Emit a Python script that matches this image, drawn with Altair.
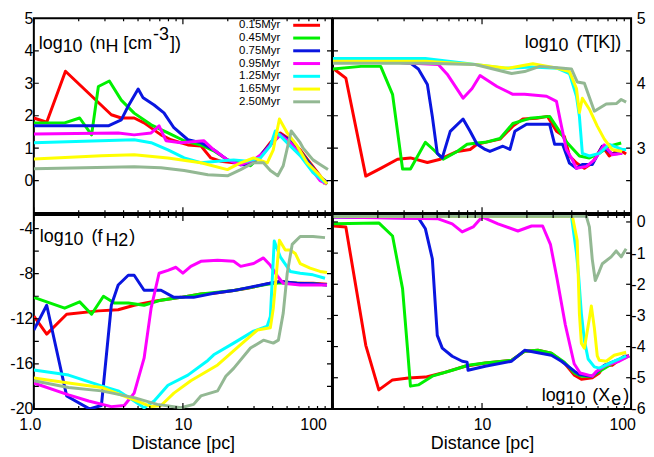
import altair as alt
import pandas as pd

FONT = "Liberation Sans"
SERIES = ["0.15Myr", "0.45Myr", "0.75Myr", "0.95Myr", "1.25Myr", "1.65Myr", "2.50Myr"]
COLORS = ["#ff0000", "#00f000", "#0a16e0", "#ff00ff", "#00ffff", "#ffff00", "#93b893"]

X_MAJOR = [1, 10, 100]
X_MINOR = [2, 3, 4, 5, 6, 7, 8, 9, 20, 30, 40, 50, 60, 70, 80, 90]

# ---------------- log10 nH  (top left) ----------------
nh_015 = [(1.0, 1.93), (1.22, 1.8), (1.63, 3.37), (3.31, 2.03), (3.86, 1.93), (4.71, 1.93), (5.49, 1.78),
          (7.13, 1.41), (8.32, 1.26), (10.8, 1.1), (13.2, 1.07), (15.4, 0.7), (17.9, 0.6), (21.9, 0.55),
          (28.4, 0.52), (33.1, 0.77), (38.6, 1.17), (45.0, 1.47), (52.5, 1.26), (61.2, 0.95), (71.3, 0.55),
          (83.2, 0.15), (89.8, -0.1)]
nh_045 = [(1.0, 1.78), (1.61, 1.78), (2.03, 1.93), (2.44, 1.41), (2.71, 2.9), (3.21, 3.07), (3.86, 2.48),
          (4.71, 2.08), (6.12, 1.72), (7.94, 1.47), (10.2, 1.23), (13.2, 1.1), (16.1, 0.92), (19.9, 0.64),
          (24.4, 0.55), (28.4, 0.46), (33.1, 0.75), (38.6, 1.1), (45.0, 1.41), (52.5, 1.2), (61.2, 0.9),
          (71.3, 0.5), (83.2, 0.1), (92.6, -0.12)]
nh_075 = [(1.0, 1.69), (3.16, 1.69), (3.86, 1.87), (4.30, 2.3), (5.01, 2.82), (5.41, 2.55), (6.41, 2.33),
          (7.46, 2.09), (8.70, 1.63), (10.8, 1.26), (13.2, 1.17), (16.1, 0.95), (19.9, 0.64), (24.4, 0.49),
          (28.4, 0.5), (33.1, 0.78), (38.6, 1.12), (45.0, 1.43), (52.5, 1.22), (61.2, 0.9), (71.3, 0.5),
          (83.2, 0.12), (92.6, -0.05)]
nh_095 = [(1.0, 1.44), (3.68, 1.47), (4.71, 1.41), (6.12, 1.47), (6.92, 1.69), (7.70, 1.23), (9.70, 1.17),
          (13.8, 1.23), (16.1, 0.95), (19.9, 0.64), (24.4, 0.49), (29.8, 0.64), (34.7, 0.85), (38.6, 1.1),
          (45.0, 1.41), (52.5, 1.17), (61.2, 0.8), (71.3, 0.4), (83.2, 0.0), (92.6, -0.1)]
nh_125 = [(1.0, 1.17), (4.71, 1.26), (6.12, 1.17), (7.94, 0.95), (10.2, 0.7), (13.2, 0.55), (17.1, 0.6),
          (21.9, 0.64), (27.1, 0.6), (33.1, 0.7), (38.6, 1.07), (41.7, 1.53), (45.0, 1.38), (52.5, 1.07),
          (61.2, 0.77), (74.6, 0.25), (89.8, -0.06)]
nh_165 = [(1.0, 0.67), (2.84, 0.77), (4.71, 0.8), (7.94, 0.7), (13.2, 0.55), (19.9, 0.34), (24.4, 0.55),
          (29.8, 0.7), (36.8, 0.55), (40.4, 0.95), (44.4, 1.9), (50.1, 1.47), (58.4, 1.07), (68.1, 0.55),
          (83.2, 0.15), (92.6, -0.1)]
nh_250 = [(1.0, 0.37), (4.71, 0.43), (7.13, 0.4), (10.2, 0.31), (14.7, 0.18), (19.9, 0.15), (24.4, 0.34),
          (29.8, 0.55), (34.7, 0.55), (38.6, 0.31), (43.3, 0.15), (47.1, 0.46), (53.3, 1.53), (61.2, 1.17),
          (64.1, 1.0), (74.6, 0.64), (83.2, 0.5), (94.0, 0.34)]

# ---------------- log10 T  (top right) ----------------
t_015 = [(1.015, 4.22), (1.22, 4.08), (1.66, 2.57), (2.09, 2.69), (2.71, 2.83), (3.31, 2.85), (4.30, 2.78),
         (5.25, 2.83), (6.81, 2.95), (8.32, 2.98), (9.26, 3.06), (10.5, 3.09), (13.2, 3.14), (16.1, 3.34),
         (18.8, 3.45), (23.3, 3.46), (27.5, 3.49), (31.6, 3.26), (35.7, 3.18), (38.6, 2.88), (43.0, 2.77),
         (48.6, 2.69), (54.9, 2.77), (64.1, 3.03), (71.3, 2.88), (83.2, 2.98), (92.6, 2.91)]
t_045 = [(1.0, 4.22), (1.54, 4.26), (2.09, 4.26), (2.51, 3.83), (2.93, 2.68), (3.31, 2.68), (4.17, 3.09),
         (4.71, 2.98), (5.49, 2.83), (6.81, 2.95), (7.94, 3.06), (9.26, 3.08), (10.5, 3.09), (13.2, 3.15),
         (16.1, 3.38), (20.9, 3.46), (28.4, 3.49), (33.1, 3.26), (37.4, 3.08), (45.0, 2.88), (52.5, 2.85),
         (61.2, 2.92), (71.3, 3.03), (85.8, 3.08)]
t_075 = [(1.0, 4.37), (3.31, 4.31), (3.74, 4.22), (4.30, 3.98), (4.64, 3.49), (5.01, 2.92), (5.41, 2.85),
         (6.12, 3.26), (7.46, 3.45), (8.32, 3.26), (9.26, 3.06), (10.5, 2.98), (11.3, 2.95), (13.8, 3.03),
         (15.4, 2.98), (16.6, 3.26), (19.9, 3.37), (28.4, 3.37), (30.7, 3.06), (34.7, 3.06), (38.6, 2.77),
         (43.0, 2.69), (47.1, 2.75), (54.9, 2.75), (64.1, 3.03), (74.6, 2.91), (87.1, 2.92)]
t_095 = [(1.0, 4.37), (5.09, 4.29), (5.84, 4.14), (7.46, 3.77), (8.58, 3.92), (9.70, 4.12), (12.6, 3.95),
         (16.1, 3.83), (19.3, 3.83), (27.1, 3.8), (31.6, 3.72), (34.1, 3.34), (36.8, 2.98), (39.8, 2.85),
         (43.0, 2.69), (50.1, 2.72), (56.7, 2.82), (66.1, 3.05), (74.6, 2.9), (87.1, 2.92)]
t_125 = [(1.0, 4.38), (4.17, 4.38), (7.70, 4.31), (14.2, 4.23), (21.5, 4.25), (32.1, 4.23), (38.6, 4.15),
         (43.0, 3.8), (45.0, 3.49), (47.1, 2.92), (52.5, 2.88), (61.2, 2.92), (71.3, 3.06), (87.1, 2.98),
         (92.6, 2.98)]
t_165 = [(1.0, 4.34), (4.17, 4.34), (8.98, 4.29), (14.9, 4.23), (21.9, 4.3), (32.1, 4.23), (38.6, 4.18),
         (43.0, 3.92), (45.0, 3.55), (47.1, 3.77), (52.5, 3.6), (59.3, 3.34), (66.1, 3.14), (74.6, 2.98),
         (87.1, 2.95)]
t_250 = [(1.0, 4.31), (4.17, 4.31), (8.98, 4.29), (15.8, 4.15), (19.3, 4.18), (24.4, 4.26), (32.1, 4.24),
         (39.8, 4.22), (43.5, 4.02), (48.6, 4.0), (56.7, 3.57), (68.1, 3.68), (80.0, 3.69), (85.8, 3.75),
         (92.6, 3.71)]

# ---------------- log10 fH2  (bottom left) ----------------
f_015 = [(1.0, -11.77), (1.22, -13.36), (1.66, -11.6), (2.71, -11.3), (3.68, -11.2), (4.71, -10.8),
         (6.72, -10.4), (9.70, -10.1), (13.2, -9.8), (16.1, -9.73), (21.9, -9.5), (27.1, -9.3),
         (36.8, -8.9), (45.0, -8.7), (58.4, -8.85), (74.6, -8.85), (92.6, -8.94)]
f_045 = [(1.0, -10.1), (1.61, -11.06), (2.03, -10.5), (2.44, -11.6), (2.93, -10.0), (3.47, -10.6),
         (4.30, -10.6), (5.49, -10.8), (7.13, -10.35), (9.70, -10.1), (13.2, -9.8), (21.9, -9.5),
         (36.8, -8.94), (45.0, -8.8), (74.6, -8.9), (92.6, -9.0)]
f_075 = [(1.0, -13.0), (1.22, -10.8), (1.66, -18.85), (2.36, -20.0), (2.84, -19.7), (3.31, -10.8),
         (3.68, -9.0), (4.30, -8.14), (4.71, -8.14), (5.49, -9.47), (7.13, -9.47), (8.70, -10.1),
         (11.8, -10.1), (16.1, -9.73), (21.9, -9.5), (36.8, -8.9), (45.0, -8.7), (58.4, -8.85),
         (74.6, -8.9), (92.6, -9.0)]
f_095 = [(1.0, -17.7), (1.71, -18.76), (2.33, -19.3), (3.31, -19.8), (4.04, -19.7), (4.71, -18.6),
         (5.49, -15.5), (6.12, -11.06), (6.92, -7.96), (7.94, -7.7), (8.98, -7.43), (10.0, -7.96),
         (11.3, -7.35), (13.2, -6.9), (17.1, -6.8), (21.9, -6.9), (24.4, -7.35), (29.8, -7.1),
         (34.7, -6.6), (38.6, -7.26), (43.0, -8.2), (47.1, -8.85), (61.2, -9.0), (92.6, -9.0)]
f_125 = [(1.0, -16.55), (1.71, -17.0), (2.84, -17.96), (3.68, -18.4), (4.71, -19.3), (5.49, -19.9),
         (6.41, -19.3), (7.94, -17.9), (10.8, -17.0), (14.7, -15.7), (16.1, -15.2), (21.9, -14.16),
         (29.8, -13.1), (36.8, -12.65), (38.6, -11.8), (41.0, -5.1), (45.0, -6.5), (52.5, -7.8),
         (61.2, -7.96), (74.6, -8.1), (89.8, -8.4)]
f_165 = [(1.0, -17.26), (1.71, -17.7), (2.84, -18.1), (4.71, -19.2), (6.12, -19.8), (7.13, -19.7),
         (8.70, -18.6), (11.3, -17.5), (17.1, -16.1), (24.4, -14.3), (31.6, -13.0), (38.6, -12.8),
         (40.4, -11.06), (44.4, -5.04), (48.6, -5.9), (52.5, -5.9), (56.7, -6.2), (61.2, -7.1),
         (71.3, -7.5), (83.2, -7.8), (92.6, -7.9)]
f_250 = [(1.0, -17.5), (1.71, -18.1), (2.84, -18.4), (4.71, -19.0), (6.72, -19.6), (9.70, -19.9),
         (11.8, -19.6), (13.2, -18.85), (17.1, -18.4), (19.4, -17.1), (21.9, -16.4), (28.4, -14.6),
         (34.7, -13.9), (40.4, -14.16), (43.7, -13.9), (47.1, -11.5), (50.1, -7.96), (54.1, -5.4),
         (61.2, -4.7), (74.6, -4.7), (89.8, -4.8)]

# ---------------- log10 Xe  (bottom right) ----------------
x_015 = [(1.015, -0.13), (1.22, -0.16), (1.66, -3.96), (2.03, -5.39), (2.51, -5.07), (3.21, -5.01),
         (4.17, -4.98), (5.41, -4.85), (7.70, -4.63), (10.5, -4.53), (15.8, -4.44), (19.3, -4.15),
         (23.7, -4.12), (29.2, -4.21), (35.7, -4.53), (41.7, -4.92), (46.4, -5.05), (54.9, -5.0),
         (61.2, -4.85), (66.1, -4.6), (74.6, -4.6), (89.8, -4.31), (97.0, -4.3)]
x_045 = [(1.015, -0.06), (2.03, -0.03), (2.51, -0.45), (2.93, -2.14), (3.16, -4.05), (3.31, -5.27),
         (3.74, -5.23), (4.64, -4.95), (6.31, -4.76), (8.06, -4.6), (10.5, -4.53), (15.8, -4.44),
         (19.3, -4.15), (23.7, -4.12), (29.2, -4.21), (35.7, -4.5), (41.7, -4.85), (46.4, -4.95),
         (54.9, -4.95), (61.2, -4.8), (74.6, -4.55), (89.8, -4.37), (97.0, -4.3)]
x_075 = [(1.015, 0.16), (3.74, 0.13), (4.17, -0.22), (4.64, -1.18), (5.01, -3.64), (5.41, -4.05),
         (6.31, -4.31), (7.36, -4.47), (7.94, -4.5), (8.06, -4.76), (10.5, -4.63), (15.8, -4.47),
         (19.3, -4.12), (23.7, -4.2), (29.2, -4.28), (34.1, -4.47), (41.7, -4.79), (45.0, -4.9),
         (54.9, -4.95), (66.1, -4.6), (89.8, -4.35), (97.0, -4.3)]
x_095 = [(1.015, 0.16), (5.09, 0.1), (6.31, -0.06), (7.36, -0.32), (8.72, -0.16), (10.0, 0.16),
         (12.8, -0.06), (17.4, -0.29), (21.5, -0.13), (25.5, -0.13), (28.8, -0.73), (31.8, -1.8),
         (36.2, -3.3), (41.5, -4.55), (45.5, -4.85), (54.9, -4.95), (58.4, -4.8), (68.1, -4.6),
         (83.2, -4.47), (97.0, -4.3)]
x_125 = [(1.0, 0.18), (39.8, 0.18), (43.0, -1.0), (44.4, -1.7), (46.4, -2.94), (48.6, -3.8),
         (51.5, -4.4), (56.7, -4.65), (61.2, -4.69), (74.6, -4.5), (92.6, -4.3)]
x_165 = [(1.0, 0.18), (40.4, 0.18), (43.5, -0.6), (45.0, -2.94), (46.4, -3.9), (48.6, -4.05),
         (52.5, -3.1), (54.1, -2.7), (56.7, -3.4), (59.3, -4.3), (61.2, -4.44), (68.1, -4.47),
         (77.0, -4.28), (92.6, -4.18)]
x_250 = [(1.0, 0.18), (50.1, 0.18), (52.5, -0.16), (54.9, -1.2), (57.5, -1.88), (61.0, -1.6),
         (64.1, -1.34), (73.5, -1.12), (79.4, -0.93), (85.8, -1.12), (92.6, -0.86)]

# tick label values
NH_LABELS = [0, 1, 2, 3, 4, 5]
NH_TICKS = [-1, 0, 1, 2, 3, 4, 5]
T_LABELS = [3, 4, 5]
T_TICKS = [2, 2.5, 3, 3.5, 4, 4.5, 5]
F_LABELS = [-20, -16, -12, -8, -4]
F_TICKS = [-20, -18, -16, -14, -12, -10, -8, -6, -4]
X_LABELS = [0, -1, -2, -3, -4, -5, -6]
X_TICKS = [0, -1, -2, -3, -4, -5, -6]

W = 300
ONE = alt.Data(values=[{"a": 1}])
COLOR = alt.Color("series:N", scale=alt.Scale(domain=SERIES, range=COLORS), legend=None)

# Arial / Liberation Sans advance widths (per 1000 em) for label layout
CW = {"l": 222, "o": 556, "g": 556, "1": 556, "0": 556, " ": 278, "(": 333, ")": 333, "n": 556,
      "H": 722, "[": 278, "]": 278, "c": 500, "m": 833, "-": 333, "3": 556, "T": 611, "K": 667,
      "f": 278, "2": 556, "X": 667, "e": 556}


def tw(s, size):
    return sum(CW.get(c, 556) for c in s) * size / 1000.0


def series_df(lists):
    rows = []
    for name, pts in zip(SERIES, lists):
        for d, v in pts:
            rows.append({"d": d, "v": v, "series": name})
    return pd.DataFrame(rows)


def texts(x0, y0, segs, size=18):
    out = []
    x = x0
    for t, gap, dy in segs:
        x += gap
        out.append(alt.Chart(ONE).mark_text(text=t, align="left", baseline="alphabetic", font=FONT,
                                            fontSize=size, color="black")
                   .encode(x=alt.value(x), y=alt.value(y0 + dy)))
        x += tw(t, size)
    return out


def panel(lists, ydom, ylabels, yticks, side, h, label, xlabels=None, xoff="0", legend=False):
    xscale = alt.Scale(type="log", domain=[1, 100], nice=False)
    yscale = alt.Scale(domain=ydom, nice=False, zero=False)
    if xlabels is None:
        xaxis = None
    else:
        xaxis = alt.Axis(values=xlabels, title="Distance [pc]", labelFlush=False,
                         labelExpr="datum.value == 1 ? '1.0' : (datum.value == 10 ? '10' : '100')",
                         labelOffset={"expr": xoff}, labelPadding=8, titlePadding=2,
                         titleFontSize=18, titleFontWeight="normal", labelFontSize=16)
    if side == "left":
        yaxis = alt.Axis(orient="left", values=ylabels, title=None, labelPadding=1, labelFontSize=16,
                         labelExpr="'' + datum.value")
    else:
        yaxis = alt.Axis(orient="right", values=ylabels, title=None, labelPadding=14, labelAlign="right",
                         labelFontSize=16, labelExpr="'' + datum.value")
    tick_yaxis = None if legend else yaxis
    df = series_df(lists)
    lines = alt.Chart(df).mark_line(strokeWidth=3, clip=True, strokeJoin="round").encode(
        x=alt.X("d:Q", scale=xscale, axis=xaxis),
        y=alt.Y("v:Q", scale=yscale, axis=yaxis),
        color=COLOR,
        detail="series:N",
    )
    layers = [lines]
    xmaj = pd.DataFrame({"d": X_MAJOR})
    xmin = pd.DataFrame({"d": X_MINOR})
    xe = alt.X("d:Q", scale=xscale, axis=xaxis)
    for dfx, L in ((xmaj, 6), (xmin, 3)):
        base = alt.Chart(dfx).mark_rule(color="black", strokeWidth=1.2, clip=True)
        layers.append(base.encode(x=xe, y=alt.value(0), y2=alt.value(L)))
        layers.append(base.encode(x=xe, y=alt.value(h), y2=alt.value(h - L)))
    ydf = pd.DataFrame({"v": yticks})
    base = alt.Chart(ydf).mark_rule(color="black", strokeWidth=1.2, clip=True)
    ye = alt.Y("v:Q", scale=yscale, axis=tick_yaxis)
    layers.append(base.encode(y=ye, x=alt.value(0), x2=alt.value(5)))
    layers.append(base.encode(y=ye, x=alt.value(W), x2=alt.value(W - 5)))
    layers += texts(*label)
    if legend:
        leg = pd.DataFrame({"series": SERIES, "row": list(range(len(SERIES)))})
        ly = alt.Y("row:O", scale=alt.Scale(type="point", range=[7, 84], padding=0), axis=None)
        layers.append(alt.Chart(leg).mark_text(align="right", baseline="middle", font=FONT, fontSize=11.5,
                                               color="black")
                      .encode(x=alt.value(248), y=ly, text="series:N"))
        layers.append(alt.Chart(leg).mark_rule(strokeWidth=3)
                      .encode(x=alt.value(261), x2=alt.value(288), y=ly, color=COLOR))
    ch = alt.layer(*layers).properties(width=W, height=h)
    if legend:
        ch = ch.resolve_scale(y="independent")
    return ch


tl = panel([nh_015, nh_045, nh_075, nh_095, nh_125, nh_165, nh_250], [-1, 5], NH_LABELS, NH_TICKS,
           "left", 196,
           (5, 31, [("log", 0, 0), ("10", 0, 3), ("(n", 7, 0), ("H", 0, 3), ("[cm", 5, 0),
                    ("-3", 1, -9), ("])", 1, 0)]), legend=True)
tr = panel([t_015, t_045, t_075, t_095, t_125, t_165, t_250], [2, 5], T_LABELS, T_TICKS,
           "right", 196,
           (193, 30, [("log", 0, 0), ("10", 0, 3), ("(T[K])", 8, 0)]))
bl = panel([f_015, f_045, f_075, f_095, f_125, f_165, f_250], [-20, -2.8], F_LABELS, F_TICKS,
           "left", 195,
           (6, 27, [("log", 0, 0), ("10", 0, 3), ("(f", 8, 0), ("H2", 3, 4), (")", 1, 0)]),
           xlabels=[1, 10, 100], xoff="datum.value == 1 ? -4 : (datum.value == 100 ? -19 : 0)")
br = panel([x_015, x_045, x_075, x_095, x_125, x_165, x_250], [-6, 0.22], X_LABELS, X_TICKS,
           "right", 195,
           (210, 187, [("log", 0, 0), ("10", 0, 3), ("(X", 7, 0), ("e", 1, 4), (")", 2, 0)]),
           xlabels=[10, 100], xoff="datum.value == 100 ? -9 : 0")

chart = alt.concat(tl, tr, bl, br, columns=2, spacing=-2).properties(
    padding=0, background="white"
).configure_view(stroke="black", strokeWidth=2).configure_axis(
    labelFont=FONT, titleFont=FONT, labelColor="black", titleColor="black",
    grid=False, ticks=False, domain=False
)

chart.save("out.html", embed_options={"renderer": "svg", "actions": False})
